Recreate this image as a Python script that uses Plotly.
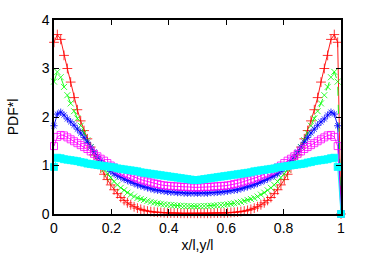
import plotly.graph_objects as go

# x grid (x/l, y/l)
x = [0.0, 0.0116, 0.0233, 0.0349, 0.0465, 0.0581, 0.0698, 0.0814, 0.0930, 0.1047,
     0.1163, 0.1279, 0.1395, 0.1512, 0.1628, 0.1744, 0.1860, 0.1977, 0.2093, 0.2209,
     0.2326, 0.2442, 0.2558, 0.2674, 0.2791, 0.2907, 0.3023, 0.3140, 0.3256, 0.3372,
     0.3488, 0.3605, 0.3721, 0.3837, 0.3953, 0.4070, 0.4186, 0.4302, 0.4419, 0.4535,
     0.4651, 0.4767, 0.4884, 0.5000, 0.5116, 0.5233, 0.5349, 0.5465, 0.5581, 0.5698,
     0.5814, 0.5930, 0.6047, 0.6163, 0.6279, 0.6395, 0.6512, 0.6628, 0.6744, 0.6860,
     0.6977, 0.7093, 0.7209, 0.7326, 0.7442, 0.7558, 0.7674, 0.7791, 0.7907, 0.8023,
     0.8140, 0.8256, 0.8372, 0.8488, 0.8605, 0.8721, 0.8837, 0.8953, 0.9070, 0.9186,
     0.9302, 0.9419, 0.9535, 0.9651, 0.9767, 0.9884, 1.0]

red = [3.54, 3.70, 3.60, 3.27, 3.00, 2.72, 2.40, 2.15, 1.92, 1.72,
       1.55, 1.38, 1.22, 1.08, 0.95, 0.82, 0.71, 0.60, 0.50, 0.42,
       0.34, 0.28, 0.23, 0.19, 0.15, 0.12, 0.095, 0.075, 0.06, 0.05,
       0.04, 0.035, 0.03, 0.025, 0.02, 0.02, 0.02, 0.02, 0.015, 0.015,
       0.015, 0.015, 0.015, 0.015, 0.015, 0.015, 0.015, 0.015, 0.02, 0.02,
       0.02, 0.02, 0.025, 0.03, 0.035, 0.04, 0.05, 0.06, 0.075, 0.095,
       0.12, 0.15, 0.19, 0.23, 0.28, 0.34, 0.42, 0.50, 0.60, 0.71,
       0.82, 0.95, 1.08, 1.22, 1.38, 1.55, 1.72, 1.92, 2.15, 2.40,
       2.72, 3.00, 3.27, 3.60, 3.70, 3.54, 0.0]

green = [2.73, 2.93, 2.82, 2.62, 2.45, 2.28, 2.12, 1.97, 1.82, 1.67,
         1.52, 1.38, 1.25, 1.13, 1.02, 0.92, 0.83, 0.75, 0.67, 0.60,
         0.54, 0.49, 0.44, 0.40, 0.36, 0.33, 0.31, 0.29, 0.27, 0.25,
         0.235, 0.22, 0.21, 0.20, 0.19, 0.185, 0.18, 0.175, 0.17, 0.165,
         0.165, 0.16, 0.16, 0.16, 0.16, 0.165, 0.165, 0.17, 0.175, 0.18,
         0.185, 0.19, 0.20, 0.21, 0.22, 0.235, 0.25, 0.27, 0.29, 0.31,
         0.33, 0.36, 0.40, 0.44, 0.49, 0.54, 0.60, 0.67, 0.75, 0.83,
         0.92, 1.02, 1.13, 1.25, 1.38, 1.52, 1.67, 1.82, 1.97, 2.12,
         2.28, 2.45, 2.62, 2.82, 2.93, 2.73, 0.0]

blue = [1.82, 2.06, 2.10, 2.04, 1.96, 1.90, 1.83, 1.75, 1.67, 1.58,
        1.48, 1.38, 1.28, 1.18, 1.10, 1.02, 0.95, 0.88, 0.83, 0.79,
        0.76, 0.72, 0.69, 0.66, 0.63, 0.60, 0.58, 0.56, 0.54, 0.52,
        0.50, 0.49, 0.48, 0.47, 0.46, 0.45, 0.45, 0.44, 0.44, 0.43,
        0.43, 0.43, 0.43, 0.43, 0.43, 0.43, 0.43, 0.44, 0.44, 0.45,
        0.45, 0.46, 0.47, 0.48, 0.49, 0.50, 0.52, 0.54, 0.56, 0.58,
        0.60, 0.63, 0.66, 0.69, 0.72, 0.76, 0.79, 0.83, 0.88, 0.95,
        1.02, 1.10, 1.18, 1.28, 1.38, 1.48, 1.58, 1.67, 1.75, 1.83,
        1.90, 1.96, 2.04, 2.10, 2.06, 1.82, 0.0]

magenta = [1.40, 1.59, 1.63, 1.62, 1.58, 1.54, 1.50, 1.46, 1.42, 1.38,
           1.34, 1.29, 1.24, 1.19, 1.14, 1.10, 1.05, 1.00, 0.96, 0.92,
           0.88, 0.85, 0.82, 0.79, 0.76, 0.73, 0.71, 0.69, 0.67, 0.65,
           0.63, 0.62, 0.60, 0.59, 0.58, 0.58, 0.57, 0.57, 0.56, 0.56,
           0.56, 0.55, 0.55, 0.55, 0.55, 0.56, 0.56, 0.56, 0.57, 0.57,
           0.58, 0.58, 0.59, 0.60, 0.62, 0.63, 0.65, 0.67, 0.69, 0.71,
           0.73, 0.76, 0.79, 0.82, 0.85, 0.88, 0.92, 0.96, 1.00, 1.05,
           1.10, 1.14, 1.19, 1.24, 1.29, 1.34, 1.38, 1.42, 1.46, 1.50,
           1.54, 1.58, 1.62, 1.63, 1.59, 1.40, 0.0]

cyan = [0.97, 1.16, 1.15, 1.13, 1.12, 1.11, 1.10, 1.09, 1.07, 1.06,
        1.04, 1.03, 1.02, 1.01, 1.00, 0.99, 0.98, 0.97, 0.96, 0.94,
        0.93, 0.92, 0.91, 0.90, 0.89, 0.88, 0.86, 0.85, 0.84, 0.83,
        0.82, 0.81, 0.80, 0.79, 0.78, 0.77, 0.76, 0.75, 0.74, 0.73,
        0.72, 0.71, 0.70, 0.70, 0.71, 0.72, 0.73, 0.74, 0.75, 0.76,
        0.77, 0.78, 0.79, 0.80, 0.81, 0.82, 0.83, 0.84, 0.85, 0.86,
        0.88, 0.89, 0.90, 0.91, 0.92, 0.93, 0.94, 0.96, 0.97, 0.98,
        0.99, 1.00, 1.01, 1.02, 1.03, 1.04, 1.06, 1.07, 1.09, 1.10,
        1.11, 1.12, 1.13, 1.15, 1.16, 0.97, 0.0]

x_ticks = [0, 0.2, 0.4, 0.6, 0.8, 1]
x_tick_text = ["0", "0.2", "0.4", "0.6", "0.8", "1"]
y_ticks = [0, 1, 2, 3, 4]

series = [
    (red, "#ff0000", "cross-thin-open", 7, "solid", 0.8),
    (green, "#00ff00", "x-thin-open", 6, "dash", 0.8),
    (blue, "#0000ff", "asterisk-open", 6, "solid", 0.8),
    (magenta, "#ff00ff", "square-open", 7, "solid", 0.8),
    (cyan, "#00ffff", "square", 7, "solid", 0.8),
]

FONT = "Liberation Sans, Arial, sans-serif"

fig = go.Figure()
for ys, col, sym, sz, dash, lw in series:
    fig.add_trace(go.Scatter(
        x=x, y=ys, mode="lines+markers",
        line=dict(color=col, width=0.9, dash=dash),
        marker=dict(symbol=sym, size=sz, color=col,
                    line=dict(color=col, width=lw)),
        cliponaxis=False, showlegend=False,
    ))

axis_common = dict(
    showgrid=False, zeroline=False, showline=True, linecolor="black",
    linewidth=1.5, mirror="ticks", ticks="inside", ticklen=5,
    tickcolor="black", tickwidth=1,
    tickfont=dict(family=FONT, size=14, color="black"),
)

fig.update_xaxes(range=[0, 1], tickvals=x_ticks, ticktext=x_tick_text,
                 title=dict(text="x/l,y/l", standoff=6,
                            font=dict(family=FONT, size=14, color="black")),
                 **axis_common)
fig.update_yaxes(range=[0, 4], tickvals=y_ticks,
                 title=dict(text="PDF*l", standoff=20,
                            font=dict(family=FONT, size=14, color="black")),
                 **axis_common)

fig.update_layout(
    width=375, height=263,
    margin=dict(l=54, r=34, t=17, b=47),
    paper_bgcolor="white", plot_bgcolor="white",
)

fig.write_html("out.html")
